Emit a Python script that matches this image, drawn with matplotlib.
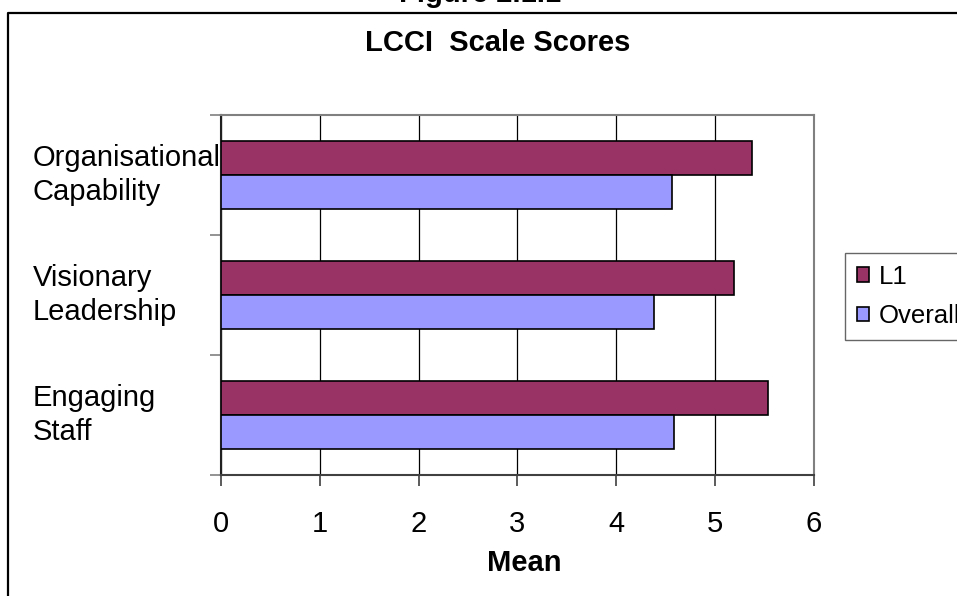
import matplotlib
matplotlib.use("Agg")
import matplotlib.pyplot as plt
from matplotlib.lines import Line2D
from matplotlib.patches import Patch
from matplotlib.transforms import blended_transform_factory
import numpy as np

# Scale scores (bottom to top on the chart)
categories = ["Engaging\nStaff", "Visionary\nLeadership", "Organisational\nCapability"]
l1_scores = [5.54, 5.19, 5.38]
overall_scores = [4.59, 4.38, 4.57]
series_names = ["L1", "Overall"]
x_ticks = [0, 1, 2, 3, 4, 5, 6]

W, H = 957, 596
plt.rcParams["font.family"] = ["Liberation Sans", "DejaVu Sans"]

fig = plt.figure(figsize=(W / 100, H / 100), dpi=100)
fig.patch.set_facecolor("white")


def px(x, y):
    """Pixel position (from top-left) to figure fraction."""
    return x / W, 1 - y / H


# plot area in pixels
ax_left, ax_right, ax_top, ax_bottom = 221, 813.5, 115, 475
ax = fig.add_axes([ax_left / W, 1 - ax_bottom / H,
                   (ax_right - ax_left) / W, (ax_bottom - ax_top) / H])

pos = np.arange(len(categories))
bh = 0.283
ax.barh(pos + bh / 2, l1_scores, height=bh, color="#993366",
        edgecolor="black", linewidth=1.2, zorder=3, label=series_names[0])
ax.barh(pos - bh / 2, overall_scores, height=bh, color="#9999FF",
        edgecolor="black", linewidth=1.2, zorder=3, label=series_names[1])

ax.set_xlim(0, 6)
ax.set_ylim(-0.5, len(categories) - 0.5)
ax.set_xticks(x_ticks)
ax.set_xticklabels([str(t) for t in x_ticks], fontsize=21)
ax.xaxis.grid(True, color="#000000", linewidth=0.9, zorder=0)
ax.set_axisbelow(True)

ax.set_yticks(np.arange(-0.5, len(categories), 1.0))
ax.set_yticklabels([])
ax.tick_params(axis="y", direction="out", length=8, width=1.2, color="#808080")
ax.tick_params(axis="x", direction="out", length=8, width=1.2, color="#404040",
               pad=17)

for side in ("top", "right"):
    ax.spines[side].set_color("#808080")
    ax.spines[side].set_linewidth(1.5)
ax.spines["left"].set_color("#202020")
ax.spines["left"].set_linewidth(1.5)
ax.spines["bottom"].set_color("#404040")
ax.spines["bottom"].set_linewidth(1.5)

# category labels, left aligned
tr = blended_transform_factory(fig.transFigure, ax.transData)
for p, name in zip(pos, categories):
    ax.text(33 / W, p, name, transform=tr, ha="left", va="center",
            fontsize=21, linespacing=1.25)

# titles
fig.text(*px(498, 43), "LCCI  Scale Scores", ha="center", va="center",
         fontsize=21, fontweight="bold")
fig.text(*px(524, 563), "Mean", ha="center", va="center",
         fontsize=21, fontweight="bold")
fig.text(*px(480, 1.5), "Figure 2.1.1", ha="center", va="baseline",
         fontsize=21, fontweight="bold")

# outer chart frame
x0, y0 = px(8.3, 12.7)
fig.add_artist(Line2D([x0, x0, 1.05], [-0.05, y0, y0],
                      transform=fig.transFigure, color="black", linewidth=1.6))

handles = [Patch(facecolor="#993366", edgecolor="black", linewidth=1.2),
           Patch(facecolor="#9999FF", edgecolor="black", linewidth=1.2)]
leg = fig.legend(handles, series_names, loc="upper left",
                 bbox_to_anchor=px(845, 253), bbox_transform=fig.transFigure,
                 fontsize=18.5, frameon=True, fancybox=False,
                 handlelength=0.48, handleheight=0.48, handletextpad=0.4,
                 labelspacing=0.6, borderpad=0.45, borderaxespad=0)
leg.get_frame().set_edgecolor("#404040")
leg.get_frame().set_linewidth(1.0)

fig.savefig("out.png", dpi=100, facecolor="white")
